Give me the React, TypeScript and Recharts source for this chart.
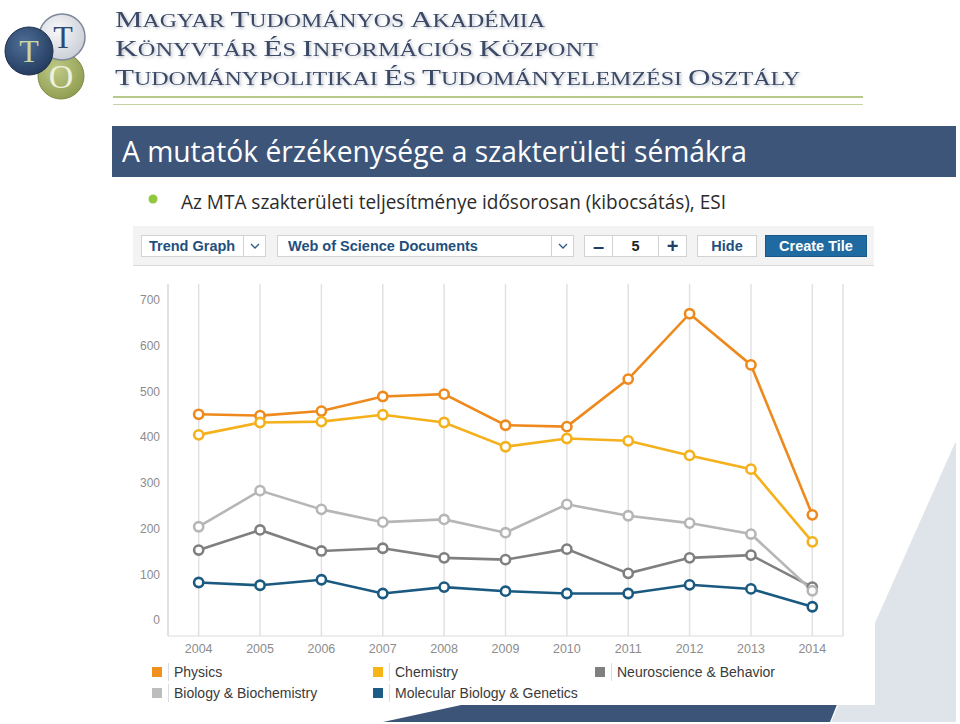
import React from "react";
import { LineChart, Line, XAxis, YAxis, CartesianGrid } from "recharts";

// --- data ---
const years = [2004, 2005, 2006, 2007, 2008, 2009, 2010, 2011, 2012, 2013, 2014];
const physics = [450, 447, 457, 489, 494, 426, 423, 527, 670, 558, 230];
const chemistry = [405, 432, 434, 449, 432, 379, 397, 392, 360, 330, 171];
const neuroscience = [153, 197, 151, 157, 136, 132, 155, 102, 136, 142, 72];
const biology = [204, 283, 242, 214, 220, 191, 253, 228, 212, 188, 64];
const molecular = [82, 76, 88, 58, 72, 63, 58, 58, 77, 68, 29];
const yTicks = [0, 100, 200, 300, 400, 500, 600, 700];

const series = [
  { key: "physics", name: "Physics", values: physics, color: "#ee8a1d", swatch: "#f0901e" },
  { key: "chemistry", name: "Chemistry", values: chemistry, color: "#f5b11c", swatch: "#f7b416" },
  { key: "neuroscience", name: "Neuroscience & Behavior", values: neuroscience, color: "#7f7f7f", swatch: "#808080" },
  { key: "biology", name: "Biology & Biochemistry", values: biology, color: "#b6b6b6", swatch: "#bdbdbd" },
  { key: "molecular", name: "Molecular Biology & Genetics", values: molecular, color: "#1a5a80", swatch: "#1d5c86" },
];

const rows = years.map((year, i) => {
  const row: Record<string, number> = { year };
  series.forEach((s) => (row[s.key] = s.values[i]));
  return row;
});

// legend layout: 3 columns, filled row by row
const legendCols = [19, 240, 462];
const legendRows = [406, 427];

const SANS = "'Liberation Sans', Arial, sans-serif";
const SERIF = "'Liberation Serif', 'DejaVu Serif', serif";
const HEAD = "#3a4a66";

const SmallCaps = ({ text, x, y, width }: { text: string; x: number; y: number; width: number }) => {
  const words = text.split(" ");
  return (
    <text x={x} y={y} fill={HEAD} fontFamily={SERIF} textLength={width} lengthAdjust="spacingAndGlyphs" filter="url(#hdrShadow)">
      {words.map((w, i) => (
        <React.Fragment key={i}>
          <tspan fontSize={24}>{w[0]}</tspan>
          <tspan fontSize={18.5}>{w.slice(1) + (i < words.length - 1 ? " " : "")}</tspan>
        </React.Fragment>
      ))}
    </text>
  );
};

const Chevron = () => (
  <svg width={10} height={6} style={{ display: "block" }}>
    <polyline points="1,1 5,5 9,1" fill="none" stroke="#2a5a86" strokeWidth={1.3} />
  </svg>
);

const box = (left: number, width: number, extra: React.CSSProperties = {}): React.CSSProperties => ({
  position: "absolute",
  left: left - 133,
  top: 9,
  width,
  height: 22,
  boxSizing: "border-box",
  border: "1px solid #d2d2d2",
  background: "#fff",
  display: "flex",
  alignItems: "center",
  fontFamily: SANS,
  fontWeight: 700,
  fontSize: 14.5,
  color: "#1f4f7d",
  ...extra,
});

export default function App() {
  return (
    <div style={{ position: "absolute", left: 0, top: 0, width: 960, height: 724, background: "#fff", overflow: "hidden" }}>
      <svg width={960} height={724} style={{ position: "absolute", left: 0, top: 0 }}>
        <defs>
          <filter id="hdrShadow" x="-5%" y="-30%" width="110%" height="160%">
            <feDropShadow dx="1.5" dy="1.5" stdDeviation="1.4" floodColor="#8a93a6" floodOpacity="0.6" />
          </filter>
          <radialGradient id="gBlue" cx="40%" cy="35%" r="70%">
            <stop offset="0%" stopColor="#4f6f98" />
            <stop offset="100%" stopColor="#22395c" />
          </radialGradient>
          <radialGradient id="gGray" cx="40%" cy="35%" r="70%">
            <stop offset="0%" stopColor="#f7f8fa" />
            <stop offset="100%" stopColor="#c9cdd5" />
          </radialGradient>
          <radialGradient id="gGreen" cx="40%" cy="35%" r="70%">
            <stop offset="0%" stopColor="#bfca85" />
            <stop offset="100%" stopColor="#8e9c50" />
          </radialGradient>
        </defs>

        {/* logo */}
        <circle cx={61} cy={76} r={23} fill="url(#gGreen)" stroke="#7c8a44" strokeWidth={1} />
        <text x={61} y={88} textAnchor="middle" fontFamily={SERIF} fontSize={34} fill="#eef1de">O</text>
        <circle cx={62} cy={37} r={23} fill="url(#gGray)" stroke="#7d8799" strokeWidth={1.5} />
        <text x={63} y={48} textAnchor="middle" fontFamily={SERIF} fontSize={32} fill="#2e4a70">T</text>
        <circle cx={29} cy={51} r={24} fill="url(#gBlue)" stroke="#1c2f4c" strokeWidth={1} />
        <text x={29} y={62} textAnchor="middle" fontFamily={SERIF} fontSize={32} fill="#c9d8a2">T</text>

        {/* header */}
        <SmallCaps text="MAGYAR TUDOMÁNYOS AKADÉMIA" x={115} y={27} width={430} />
        <SmallCaps text="KÖNYVTÁR ÉS INFORMÁCIÓS KÖZPONT" x={115} y={56} width={483} />
        <SmallCaps text="TUDOMÁNYPOLITIKAI ÉS TUDOMÁNYELEMZÉSI OSZTÁLY" x={115} y={85} width={685} />
        <rect x={113} y={96} width={750} height={2} fill="#b8c98c" />
        <rect x={113} y={104} width={750} height={1} fill="#c5d3a0" />

        {/* title bar */}
        <rect x={112} y={126} width={844} height={51} fill="#3d5579" />
        <text x={122} y={162} fill="#fff" fontFamily="'Open Sans', sans-serif" fontSize={29} textLength={625} lengthAdjust="spacingAndGlyphs">
          A mutatók érzékenysége a szakterületi sémákra
        </text>

        {/* bullet */}
        <circle cx={153} cy={199} r={4.5} fill="#92c83e" />
        <text x={181} y={209} fill="#2b2b2b" fontFamily="'Open Sans', sans-serif" fontSize={19.5} textLength={545} lengthAdjust="spacingAndGlyphs">
          Az MTA szakterületi teljesítménye idősorosan (kibocsátás), ESI
        </text>

        {/* slide decoration */}
        <polygon points="955,443 956,443 956,722 831,722" fill="#dfe3ea" />
        <polygon points="383,722 475,702 838,702 830,722" fill="#3b5478" />
      </svg>

      {/* toolbar */}
      <div style={{ position: "absolute", left: 133, top: 226, width: 741, height: 40, background: "#f3f3f3", borderBottom: "1px solid #dadada", boxSizing: "border-box" }}>
        <div style={box(141, 103, { paddingLeft: 7 })}>Trend Graph</div>
        <div style={box(243, 23, { justifyContent: "center" })}><Chevron /></div>
        <div style={box(277, 275, { paddingLeft: 10 })}>Web of Science Documents</div>
        <div style={box(551, 23, { justifyContent: "center" })}><Chevron /></div>
        <div style={box(584, 29, { justifyContent: "center", fontSize: 20, color: "#1f3f64" })}>–</div>
        <div style={box(612, 47, { justifyContent: "center", color: "#222" })}>5</div>
        <div style={box(658, 29, { justifyContent: "center", fontSize: 20, color: "#1f3f64" })}>+</div>
        <div style={box(697, 60, { justifyContent: "center" })}>Hide</div>
        <div style={box(765, 102, { justifyContent: "center", background: "#1f6aa0", border: "1px solid #175a8a", color: "#fff" })}>Create Tile</div>
      </div>

      {/* chart tile */}
      <div style={{ position: "absolute", left: 133, top: 266, width: 742, height: 439, background: "#fff" }}>
        <LineChart width={742} height={439} data={rows} margin={{ top: 18, right: 32, left: 0, bottom: 39 }}>
          <CartesianGrid horizontal={false} stroke="#e1e1e4" strokeWidth={1.5} />
          <XAxis
            dataKey="year"
            type="number"
            domain={[2003.5, 2014.5]}
            ticks={years}
            height={30}
            tickSize={0}
            tickMargin={8}
            axisLine={{ stroke: "#dcdcdc" }}
            tickLine={false}
            tick={{ fill: "#8c8c8c", fontSize: 12.5, fontFamily: SANS }}
          />
          <YAxis
            type="number"
            domain={[-35, 735]}
            allowDataOverflow
            ticks={yTicks}
            width={35}
            tickSize={0}
            tickMargin={8}
            axisLine={{ stroke: "#dcdcdc" }}
            tickLine={false}
            tick={{ fill: "#8c8c8c", fontSize: 12, fontFamily: SANS }}
          />
          {series.map((s) => (
            <Line
              key={s.key}
              dataKey={s.key}
              name={s.name}
              type="linear"
              stroke={s.color}
              strokeWidth={2.6}
              dot={{ r: 4.6, fill: "#fff", stroke: s.color, strokeWidth: 2.6 }}
              isAnimationActive={false}
            />
          ))}
        </LineChart>

        {series.map((s, i) => (
          <div
            key={s.key}
            style={{
              position: "absolute",
              left: legendCols[i % 3],
              top: legendRows[Math.floor(i / 3)] - 9,
              height: 18,
              display: "flex",
              alignItems: "center",
              fontFamily: SANS,
              fontSize: 14,
              color: "#3a3a3a",
              whiteSpace: "nowrap",
            }}
          >
            <span style={{ width: 10, height: 10, background: s.swatch, display: "inline-block" }} />
            <span style={{ width: 1, height: 18, background: "#dddddd", marginLeft: 6, marginRight: 5, display: "inline-block" }} />
            <span>{s.name}</span>
          </div>
        ))}
      </div>
    </div>
  );
}
